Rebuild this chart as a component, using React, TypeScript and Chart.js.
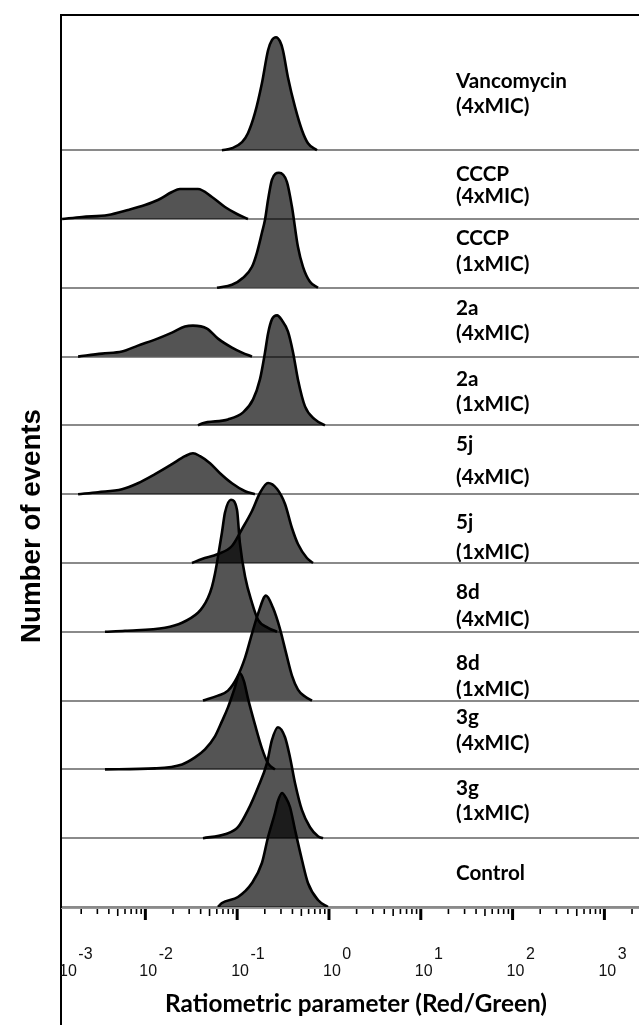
import React, { useEffect, useRef } from "react";
import { Chart, registerables } from "chart.js";

Chart.register(...registerables);

// ---------- axis ranges ----------
const PANEL_STEP = 68.8; // event offset between stacked histograms
const Y_MAX = 892;
const X_MIN = 0.001205;
const X_MAX = 2382;

// ---------- panel labels (bottom to top) ----------
const panelNames = ["Control", "3g", "3g", "8d", "8d", "5j", "5j", "2a", "2a", "CCCP", "CCCP", "Vancomycin"];
const panelDoses = ["", "(1xMIC)", "(4xMIC)", "(1xMIC)", "(4xMIC)", "(1xMIC)", "(4xMIC)", "(1xMIC)", "(4xMIC)", "(1xMIC)", "(4xMIC)", "(4xMIC)"];

// ---------- histogram data (ratio, events) ----------
const controlRatio = [0.0618, 0.0682, 0.102, 0.145, 0.186, 0.217, 0.258, 0.278, 0.308, 0.340, 0.376, 0.427, 0.508, 0.590, 0.759, 0.975];
const controlCount = [0, 4, 10, 24, 44, 70, 94, 106, 114, 109, 100, 77, 47, 24, 7, 0];

const g3x1Ratio = [0.0424, 0.0736, 0.102, 0.131, 0.169, 0.211, 0.239, 0.278, 0.332, 0.376, 0.427, 0.508, 0.621, 0.759, 0.861];
const g3x1Count = [0, 4, 11, 28, 51, 75, 98, 111, 101, 81, 55, 28, 11, 2, 0];

const g3x4Ratio = [0.00363, 0.01274, 0.0251, 0.0347, 0.0446, 0.0573, 0.0682, 0.0794, 0.0930, 0.107, 0.1186, 0.131, 0.156, 0.186, 0.217, 0.258];
const g3x4Count = [0, 1, 5, 12, 20, 33, 48, 62, 80, 96, 88, 71, 45, 21, 6, 0];

const d8x1Ratio = [0.0424, 0.0618, 0.0794, 0.0995, 0.122, 0.145, 0.169, 0.206, 0.245, 0.292, 0.340, 0.395, 0.459, 0.548, 0.653];
const d8x1Count = [0, 5, 10, 23, 43, 67, 87, 105, 93, 72, 48, 25, 11, 4, 0];

const d8x4Ratio = [0.00363, 0.006, 0.01637, 0.0251, 0.0374, 0.0424, 0.0481, 0.0531, 0.0573, 0.0618, 0.0682, 0.0736, 0.0855, 0.0995, 0.107, 0.122, 0.145, 0.169, 0.217, 0.272];
const d8x4Count = [0, 1, 4, 9, 19, 25, 34, 45, 58, 75, 99, 119, 132, 122, 89, 55, 29, 12, 4, 0];

const j5x1Ratio = [0.0322, 0.0414, 0.0618, 0.0877, 0.113, 0.145, 0.177, 0.217, 0.272, 0.332, 0.395, 0.459, 0.575, 0.670];
const j5x1Count = [0, 4, 9, 17, 34, 52, 70, 80, 74, 59, 35, 19, 5, 0];

const j5x4Ratio = [0.00185, 0.00305, 0.00556, 0.0083, 0.01274, 0.0195, 0.027, 0.033, 0.0394, 0.0506, 0.065, 0.0877, 0.122, 0.156];
const j5x4Count = [0, 2, 5, 11, 20, 30, 38, 41, 38, 31, 21, 11, 3, 0];

const a2x1Ratio = [0.0374, 0.0414, 0.0794, 0.116, 0.149, 0.177, 0.201, 0.217, 0.239, 0.272, 0.308, 0.357, 0.406, 0.459, 0.548, 0.703, 0.904];
const a2x1Count = [0, 2, 6, 13, 26, 46, 73, 92, 106, 110, 105, 94, 73, 46, 19, 6, 0];

const a2x4Ratio = [0.00185, 0.00337, 0.00556, 0.0083, 0.01274, 0.0195, 0.027, 0.033, 0.0469, 0.0618, 0.0877, 0.113, 0.145];
const a2x4Count = [0, 3, 5, 11, 17, 24, 30, 31, 28, 18, 9, 4, 0];

const cccpx1Ratio = [0.0603, 0.0877, 0.116, 0.145, 0.164, 0.186, 0.201, 0.217, 0.239, 0.285, 0.348, 0.395, 0.459, 0.521, 0.621, 0.759];
const cccpx1Count = [0, 3, 10, 21, 35, 55, 68, 88, 108, 115, 106, 81, 41, 21, 6, 0];

const cccpx4Ratio = [0.00124, 0.00204, 0.00392, 0.00646, 0.00991, 0.0137, 0.0195, 0.0238, 0.0374, 0.0531, 0.0736, 0.0995, 0.131];
const cccpx4Count = [0, 2, 4, 9, 14, 19, 27, 30, 30, 22, 12, 5, 0];

const vancoRatio = [0.0682, 0.0877, 0.113, 0.131, 0.156, 0.186, 0.217, 0.239, 0.265, 0.292, 0.315, 0.357, 0.427, 0.508, 0.590, 0.740];
const vancoCount = [0, 2, 8, 17, 37, 67, 100, 110, 113, 109, 100, 73, 43, 20, 7, 0];

const seriesRatios = [controlRatio, g3x1Ratio, g3x4Ratio, d8x1Ratio, d8x4Ratio, j5x1Ratio, j5x4Ratio, a2x1Ratio, a2x4Ratio, cccpx1Ratio, cccpx4Ratio, vancoRatio];
const seriesCounts = [controlCount, g3x1Count, g3x4Count, d8x1Count, d8x4Count, j5x1Count, j5x4Count, a2x1Count, a2x4Count, cccpx1Count, cccpx4Count, vancoCount];

// ---------- axis tick labels ----------
const decadeExponents = [-3, -2, -1, 0, 1, 2, 3];
const minorMultipliers = [2, 3, 4, 5, 6, 7, 8, 9];
const xTitle = "Ratiometric parameter (Red/Green)";
const yTitle = "Number of events";

// label vertical offsets (px above each panel baseline) for name / dose lines
const labelOffsets: number[][] = [
  [-34], [-50, -25], [-52, -26], [-37, -11], [-39, -12], [-41, -11],
  [-50, -17], [-46, -21], [-48, -23], [-49, -23], [-45, -23], [-69, -44],
];

function fitSize(ctx: CanvasRenderingContext2D, text: string, width: number, weight: string, family: string) {
  ctx.font = `${weight} 100px ${family}`;
  const w = ctx.measureText(text).width;
  return (100 * width) / w;
}

const decorPlugin = {
  id: "decor",
  afterDraw(chart: any) {
    const ctx: CanvasRenderingContext2D = chart.ctx;
    const { left, right, top, bottom } = chart.chartArea;
    const xs = chart.scales.x;
    const ys = chart.scales.y;
    ctx.save();

    // frame
    ctx.strokeStyle = "#000";
    ctx.lineWidth = 2;
    ctx.beginPath();
    ctx.moveTo(left, top);
    ctx.lineTo(right, top);
    ctx.moveTo(left, top - 1);
    ctx.lineTo(left, chart.height);
    ctx.stroke();

    // axis line
    ctx.strokeStyle = "#9a9a9a";
    ctx.lineWidth = 1;
    ctx.beginPath();
    ctx.moveTo(left, bottom + 1.5);
    ctx.lineTo(right, bottom + 1.5);
    ctx.stroke();

    // ticks
    ctx.strokeStyle = "#000";
    const t0 = bottom + 2;
    for (const e of decadeExponents) {
      const major = Math.pow(10, e);
      const px = xs.getPixelForValue(major);
      if (px > left + 2 && px <= right) {
        ctx.lineWidth = 3;
        ctx.beginPath();
        ctx.moveTo(px, t0);
        ctx.lineTo(px, t0 + 11);
        ctx.stroke();
      }
      for (const m of minorMultipliers) {
        const p = xs.getPixelForValue(m * major);
        if (p > left + 2 && p <= right) {
          ctx.lineWidth = 1.6;
          ctx.beginPath();
          ctx.moveTo(p, t0);
          ctx.lineTo(p, t0 + (m === 5 ? 7 : 5));
          ctx.stroke();
        }
      }
    }

    // tick labels
    ctx.fillStyle = "#111";
    ctx.textBaseline = "alphabetic";
    ctx.textAlign = "left";
    ctx.font = '16px "Liberation Sans", Arial, sans-serif';
    for (const e of decadeExponents) {
      const px = xs.getPixelForValue(Math.pow(10, e));
      const lx = Math.max(px - 6, left - 2);
      ctx.fillText("10", lx, 976);
      const w = ctx.measureText("10").width;
      ctx.fillText(e < 0 ? "-" + Math.abs(e) : String(e), lx + w + 1.5, 959);
    }

    // x title
    ctx.fillStyle = "#000";
    const xs2 = fitSize(ctx, xTitle, 382, "bold", "Lato");
    ctx.font = `bold ${xs2}px Lato`;
    ctx.textAlign = "center";
    ctx.textBaseline = "middle";
    ctx.fillText(xTitle, 356, 1004);

    // y title
    const ys2 = fitSize(ctx, yTitle, 234, "bold", '"Liberation Sans"');
    ctx.save();
    ctx.translate(32, 526);
    ctx.rotate(-Math.PI / 2);
    ctx.font = `bold ${ys2}px "Liberation Sans"`;
    ctx.textAlign = "center";
    ctx.textBaseline = "middle";
    ctx.fillText(yTitle, 0, 0);
    ctx.restore();

    // panel labels
    const ls = fitSize(ctx, "Vancomycin", 111, "bold", "Lato");
    ctx.font = `bold ${ls}px Lato`;
    ctx.textAlign = "left";
    ctx.textBaseline = "middle";
    panelNames.forEach((name, i) => {
      const base = ys.getPixelForValue(i * PANEL_STEP);
      const offs = labelOffsets[i];
      ctx.fillText(name, 456, base + offs[0]);
      if (panelDoses[i] && offs.length > 1) ctx.fillText(panelDoses[i], 456, base + offs[1]);
    });

    ctx.restore();
  },
};

export default function App() {
  const ref = useRef<HTMLCanvasElement | null>(null);

  useEffect(() => {
    if (!ref.current) return;
    const baselines = panelNames.map((_, i) => i * PANEL_STEP);
    const datasets = seriesRatios.map((ratios, i) => ({
      label: panelNames[i] + " " + panelDoses[i],
      data: ratios.map((r, j) => ({ x: r, y: baselines[i] + seriesCounts[i][j] })),
      borderColor: "#000",
      borderWidth: 2.6,
      backgroundColor: "rgba(0,0,0,0.67)",
      pointRadius: 0,
      cubicInterpolationMode: "monotone" as const,
      fill: { value: baselines[i] },
    }));

    const chart = new Chart(ref.current, {
      type: "line",
      data: { datasets },
      options: {
        animation: false,
        responsive: false,
        devicePixelRatio: 1,
        layout: { padding: { left: 61, right: 0, top: 15, bottom: 118 } },
        plugins: { legend: { display: false }, tooltip: { enabled: false }, title: { display: false } },
        scales: {
          x: { type: "logarithmic", min: X_MIN, max: X_MAX, display: false },
          y: {
            type: "linear",
            min: 0,
            max: Y_MAX,
            display: true,
            afterBuildTicks: (scale: any) => {
              scale.ticks = baselines.map((v) => ({ value: v }));
            },
            ticks: { display: false },
            border: { display: false },
            grid: { drawTicks: false, color: "#8a8a8a", lineWidth: 2 },
          },
        },
      },
      plugins: [decorPlugin],
    });
    return () => chart.destroy();
  }, []);

  return (
    <div style={{ position: "absolute", left: 0, top: 0, width: 639, height: 1025, background: "#fff" }}>
      <canvas ref={ref} width={639} height={1025} style={{ display: "block", width: 639, height: 1025 }} />
    </div>
  );
}
